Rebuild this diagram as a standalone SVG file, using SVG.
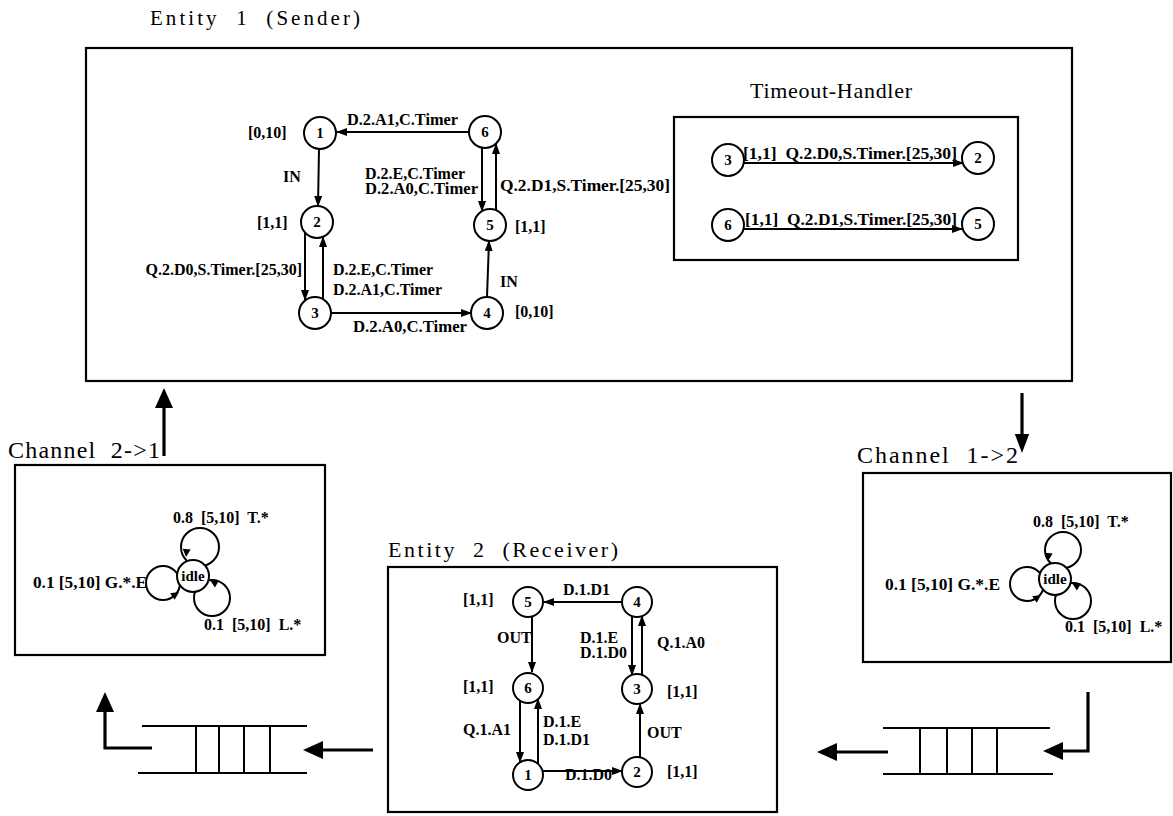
<svg xmlns="http://www.w3.org/2000/svg" width="1173" height="816" viewBox="0 0 1173 816">
<style>
.box{fill:none;stroke:#000;stroke-width:2.2}
.nd{fill:#fff;stroke:#000;stroke-width:2}
.lp{fill:none;stroke:#000;stroke-width:2}
.e{fill:none;stroke:#000;stroke-width:2;marker-end:url(#ah)}
.thick{fill:none;stroke:#000;stroke-width:3.2}
.q{fill:none;stroke:#000;stroke-width:2}
.t{font-family:"Liberation Serif","Times New Roman",serif;fill:#000}
.l{font-family:"Liberation Serif","Times New Roman",serif;font-size:16px;font-weight:bold;fill:#000}
.n{font-family:"Liberation Serif","Times New Roman",serif;font-size:15px;font-weight:bold;fill:#000;text-anchor:middle}
</style>
<defs>
<marker id="ah" markerUnits="userSpaceOnUse" markerWidth="11" markerHeight="8" refX="10" refY="4" orient="auto">
<path d="M0,0 L11,4 L0,8 z" fill="#000"/>
</marker>
<polygon id="tri" points="0,0 -10,-5 -10,5" fill="#000"/>
<polygon id="big" points="0,0 -20,-9 -20,9" fill="#000"/>
</defs>

<!-- Titles -->
<text class="t" x="150" y="25" style="font-size:21px" textLength="210" lengthAdjust="spacing" xml:space="preserve">Entity  1  (Sender)</text>
<text class="t" x="750" y="98" style="font-size:22px" textLength="162" lengthAdjust="spacing">Timeout-Handler</text>
<text class="t" x="8" y="458" style="font-size:24px" textLength="152" lengthAdjust="spacing" xml:space="preserve">Channel  2-&gt;1</text>
<text class="t" x="857" y="463" style="font-size:24px" textLength="161" lengthAdjust="spacing" xml:space="preserve">Channel  1-&gt;2</text>
<text class="t" x="388" y="557" style="font-size:22px" textLength="230" lengthAdjust="spacing" xml:space="preserve">Entity  2  (Receiver)</text>

<!-- Boxes -->
<g id="sender">
<rect class="box" x="86" y="48" width="986" height="333"/>
</g>
<g id="timeout-handler">
<rect class="box" x="674" y="117" width="344" height="143"/>
</g>
<g id="channel21">
<rect class="box" x="15" y="465" width="310" height="190"/>
</g>
<g id="channel12">
<rect class="box" x="863" y="473" width="308" height="189"/>
</g>
<g id="receiver">
<rect class="box" x="388" y="567" width="389" height="245"/>
</g>

<!-- Connectors -->
<g id="connectors">
<!-- sender -->
<line class="e" x1="469" y1="132" x2="337" y2="132"/>
<line class="e" x1="319" y1="149" x2="318" y2="206"/>
<line class="e" x1="305" y1="233" x2="305" y2="300"/>
<line class="e" x1="323" y1="299" x2="323" y2="237"/>
<line class="e" x1="331" y1="313" x2="471" y2="313"/>
<line class="e" x1="487" y1="297" x2="489" y2="241"/>
<line class="e" x1="482" y1="148" x2="482" y2="211"/>
<line class="e" x1="496" y1="210" x2="496" y2="144"/>
<!-- timeout handler -->
<line class="e" x1="744" y1="163" x2="963" y2="163"/>
<line class="e" x1="744" y1="229" x2="962" y2="229"/>
<!-- receiver -->
<line class="e" x1="621" y1="602" x2="544" y2="602"/>
<line class="e" x1="532" y1="617" x2="532" y2="672"/>
<line class="e" x1="632" y1="616" x2="632" y2="675"/>
<line class="e" x1="642" y1="675" x2="642" y2="616"/>
<line class="e" x1="520" y1="701" x2="520" y2="762"/>
<line class="e" x1="538" y1="764" x2="538" y2="699"/>
<line class="e" x1="543" y1="771" x2="622" y2="771"/>
<line class="e" x1="640" y1="757" x2="640" y2="704"/>
<!-- channel 2->1 loops -->
<circle class="lp" cx="200" cy="547" r="19"/>
<circle class="lp" cx="163" cy="583" r="17"/>
<circle class="lp" cx="212" cy="598" r="18"/>
<!-- channel 1->2 loops -->
<circle class="lp" cx="1063" cy="550" r="18"/>
<circle class="lp" cx="1027" cy="584" r="17"/>
<circle class="lp" cx="1073" cy="601" r="18"/>
<!-- big arrows between components -->
<line class="thick" x1="164" y1="456" x2="164" y2="408"/>
<use href="#big" transform="translate(164,388) rotate(-90)"/>
<line class="thick" x1="1022" y1="393" x2="1022" y2="436"/>
<use href="#big" transform="translate(1022,453) rotate(90) scale(0.95,0.8)"/>
<!-- left queue arrows -->
<line class="thick" x1="373" y1="750" x2="320" y2="750"/>
<use href="#big" transform="translate(303,750) rotate(180)"/>
<polyline class="thick" points="152,748 105,748 105,710"/>
<use href="#big" transform="translate(105,692) rotate(-90)"/>
<!-- right queue arrows -->
<polyline class="thick" points="1088,692 1088,751 1060,751"/>
<use href="#big" transform="translate(1043,751) rotate(180)"/>
<line class="thick" x1="888" y1="752" x2="835" y2="752"/>
<use href="#big" transform="translate(817,752) rotate(180)"/>
</g>

<!-- Queues -->
<g id="queue-left">
<line class="q" x1="142" y1="726" x2="307" y2="726"/>
<line class="q" x1="138" y1="773" x2="307" y2="773"/>
<line class="q" x1="196" y1="726" x2="196" y2="773"/>
<line class="q" x1="219" y1="726" x2="219" y2="773"/>
<line class="q" x1="244" y1="726" x2="244" y2="773"/>
<line class="q" x1="270" y1="726" x2="270" y2="773"/>
</g>
<g id="queue-right">
<line class="q" x1="883" y1="728" x2="1050" y2="728"/>
<line class="q" x1="883" y1="774" x2="1053" y2="774"/>
<line class="q" x1="920" y1="728" x2="920" y2="774"/>
<line class="q" x1="947" y1="728" x2="947" y2="774"/>
<line class="q" x1="972" y1="728" x2="972" y2="774"/>
<line class="q" x1="997" y1="728" x2="997" y2="774"/>
</g>

<!-- Sender nodes -->
<g id="s1"><circle class="nd" cx="320" cy="133" r="16"/><text class="n" x="320" y="138">1</text></g>
<g id="s2"><circle class="nd" cx="317" cy="222" r="16"/><text class="n" x="317" y="227">2</text></g>
<g id="s3"><circle class="nd" cx="315" cy="313" r="16"/><text class="n" x="315" y="318">3</text></g>
<g id="s4"><circle class="nd" cx="487" cy="313" r="16"/><text class="n" x="487" y="318">4</text></g>
<g id="s5"><circle class="nd" cx="490" cy="225" r="16"/><text class="n" x="490" y="230">5</text></g>
<g id="s6"><circle class="nd" cx="485" cy="132" r="16"/><text class="n" x="485" y="137">6</text></g>

<!-- Sender labels -->
<g id="sender-labels">
<text class="l" x="347" y="125" textLength="111" lengthAdjust="spacingAndGlyphs">D.2.A1,C.Timer</text>
<text class="l" x="283" y="182">IN</text>
<text class="l" x="248" y="138">[0,10]</text>
<text class="l" x="257" y="228">[1,1]</text>
<text class="l" x="302" y="275" text-anchor="end">Q.2.D0,S.Timer.[25,30]</text>
<text class="l" x="333" y="275">D.2.E,C.Timer</text>
<text class="l" x="333" y="295">D.2.A1,C.Timer</text>
<text class="l" x="353" y="332" textLength="114" lengthAdjust="spacingAndGlyphs">D.2.A0,C.Timer</text>
<text class="l" x="515" y="317">[0,10]</text>
<text class="l" x="500" y="287">IN</text>
<text class="l" x="515" y="232">[1,1]</text>
<text class="l" x="365" y="179">D.2.E,C.Timer</text>
<text class="l" x="365" y="194" textLength="113" lengthAdjust="spacingAndGlyphs">D.2.A0,C.Timer</text>
<text class="l" x="500" y="191" textLength="170" lengthAdjust="spacingAndGlyphs">Q.2.D1,S.Timer.[25,30]</text>
</g>

<!-- Timeout handler nodes -->
<g id="t3"><circle class="nd" cx="728" cy="160" r="16"/><text class="n" x="728" y="165">3</text></g>
<g id="t2"><circle class="nd" cx="978" cy="158" r="16"/><text class="n" x="978" y="163">2</text></g>
<g id="t6"><circle class="nd" cx="728" cy="225" r="16"/><text class="n" x="728" y="230">6</text></g>
<g id="t5"><circle class="nd" cx="978" cy="224" r="16"/><text class="n" x="978" y="229">5</text></g>
<g id="timeout-labels">
<text class="l" x="743" y="159" textLength="214" lengthAdjust="spacingAndGlyphs" xml:space="preserve">[1,1]  Q.2.D0,S.Timer.[25,30]</text>
<text class="l" x="745" y="225" textLength="212" lengthAdjust="spacingAndGlyphs" xml:space="preserve">[1,1]  Q.2.D1,S.Timer.[25,30]</text>
</g>

<!-- Channel 2->1 -->
<g id="idle21">
<circle class="nd" cx="193" cy="576" r="16"/>
<text class="n" x="193" y="581">idle</text>
<use href="#tri" transform="translate(186,557) rotate(95) scale(0.8)"/>
<use href="#tri" transform="translate(179,592) rotate(-35) scale(0.8)"/>
<use href="#tri" transform="translate(210,580) rotate(210) scale(0.8)"/>
</g>
<g id="ch21-labels">
<text class="l" x="173" y="523" xml:space="preserve">0.8  [5,10]  T.*</text>
<text class="l" x="33" y="588" textLength="114" lengthAdjust="spacingAndGlyphs">0.1 [5,10] G.*.E</text>
<text class="l" x="204" y="630" xml:space="preserve">0.1  [5,10]  L.*</text>
</g>

<!-- Channel 1->2 -->
<g id="idle12">
<circle class="nd" cx="1055" cy="579" r="16"/>
<text class="n" x="1055" y="584">idle</text>
<use href="#tri" transform="translate(1048,561) rotate(95) scale(0.8)"/>
<use href="#tri" transform="translate(1041,595) rotate(-35) scale(0.8)"/>
<use href="#tri" transform="translate(1072,583) rotate(210) scale(0.8)"/>
</g>
<g id="ch12-labels">
<text class="l" x="1033" y="527" xml:space="preserve">0.8  [5,10]  T.*</text>
<text class="l" x="885" y="590" textLength="115" lengthAdjust="spacingAndGlyphs">0.1 [5,10] G.*.E</text>
<text class="l" x="1065" y="632" xml:space="preserve">0.1  [5,10]  L.*</text>
</g>

<!-- Receiver nodes -->
<g id="r5"><circle class="nd" cx="528" cy="602" r="15"/><text class="n" x="528" y="607">5</text></g>
<g id="r4"><circle class="nd" cx="637" cy="602" r="15"/><text class="n" x="637" y="607">4</text></g>
<g id="r6"><circle class="nd" cx="528" cy="688" r="15"/><text class="n" x="528" y="693">6</text></g>
<g id="r3"><circle class="nd" cx="637" cy="689" r="15"/><text class="n" x="637" y="694">3</text></g>
<g id="r1"><circle class="nd" cx="528" cy="775" r="15"/><text class="n" x="528" y="780">1</text></g>
<g id="r2"><circle class="nd" cx="637" cy="772" r="15"/><text class="n" x="637" y="777">2</text></g>
<g id="receiver-labels">
<text class="l" x="563" y="595">D.1.D1</text>
<text class="l" x="497" y="643">OUT</text>
<text class="l" x="580" y="643">D.1.E</text>
<text class="l" x="580" y="658">D.1.D0</text>
<text class="l" x="657" y="648">Q.1.A0</text>
<text class="l" x="463" y="735">Q.1.A1</text>
<text class="l" x="543" y="727">D.1.E</text>
<text class="l" x="543" y="745">D.1.D1</text>
<text class="l" x="565" y="780">D.1.D0</text>
<text class="l" x="647" y="738">OUT</text>
<text class="l" x="463" y="605">[1,1]</text>
<text class="l" x="463" y="692">[1,1]</text>
<text class="l" x="667" y="697">[1,1]</text>
<text class="l" x="667" y="777">[1,1]</text>
</g>
</svg>
